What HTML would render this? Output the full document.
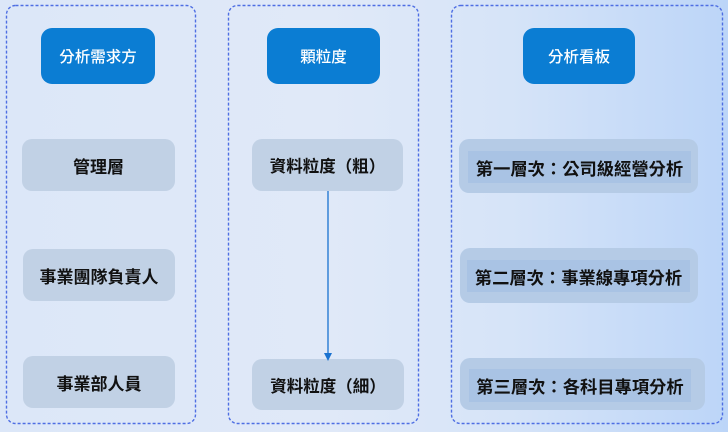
<!DOCTYPE html>
<html><head><meta charset="utf-8">
<style>
html,body{margin:0;padding:0;}
body{width:728px;height:432px;overflow:hidden;position:relative;
background:linear-gradient(90deg,#dce7f8 0%,#e0e9f8 45%,#d6e4f8 70%,#bcd5f8 100%);
font-family:"Liberation Sans","Noto Sans CJK TC",sans-serif;}
.hdr{position:absolute;background:#0b7dd3;border-radius:11px;color:#fff;font-size:15.5px;display:flex;align-items:center;justify-content:center;font-weight:500;}
.box{position:absolute;background:#c1d1e5;border-radius:10px;color:#111;font-size:17px;font-weight:bold;display:flex;align-items:center;justify-content:center;white-space:nowrap;}
.rbox{position:absolute;background:#b5cbe6;border-radius:10px;}
.inner{position:absolute;background:#a9c3e4;color:#111;font-size:17.3px;font-weight:bold;display:flex;align-items:center;justify-content:center;white-space:nowrap;}
</style></head><body>
<svg style="position:absolute;left:0;top:0" width="728" height="432">
<g fill="none" stroke="#4e6ee3" stroke-width="1.4" stroke-dasharray="3 2">
<rect x="6.5" y="5.5" width="189" height="418" rx="9"/>
<rect x="228.5" y="5.5" width="190" height="418" rx="9"/>
<rect x="451.5" y="5.5" width="271" height="418" rx="9"/>
</g>
</svg>

<div class="hdr" style="left:41px;top:28px;width:114px;height:56px;">分析需求方</div>
<div class="hdr" style="left:267px;top:28px;width:113px;height:56px;">顆粒度</div>
<div class="hdr" style="left:523px;top:28px;width:112px;height:56px;">分析看板</div>

<div class="box" style="left:22px;top:139px;width:153px;height:52px;">管理層</div>
<div class="box" style="left:23px;top:249px;width:152px;height:52px;">事業團隊負責人</div>
<div class="box" style="left:23px;top:356px;width:152px;height:52px;">事業部人員</div>

<div class="box" style="left:252px;top:139px;width:151px;height:52px;font-size:16.5px;">資料粒度（粗）</div>
<div class="box" style="left:252px;top:359px;width:152px;height:51px;font-size:16.5px;">資料粒度（細）</div>

<svg style="position:absolute;left:0;top:0" width="728" height="432">
<line x1="328" y1="191" x2="328" y2="354" stroke="#1a72d0" stroke-width="1.3"/>
<polygon points="324,353 332,353 328,361" fill="#1a72d0"/>
</svg>

<div class="rbox" style="left:459px;top:139px;width:239px;height:54px;"></div>
<div class="inner" style="left:468px;top:151px;width:223px;height:32px;">第一層次：公司級經營分析</div>
<div class="rbox" style="left:460px;top:248px;width:238px;height:55px;"></div>
<div class="inner" style="left:467px;top:260px;width:223px;height:32px;">第二層次：事業線專項分析</div>
<div class="rbox" style="left:460px;top:358px;width:245px;height:52px;"></div>
<div class="inner" style="left:469px;top:369px;width:222px;height:33px;">第三層次：各科目專項分析</div>
</body></html>
